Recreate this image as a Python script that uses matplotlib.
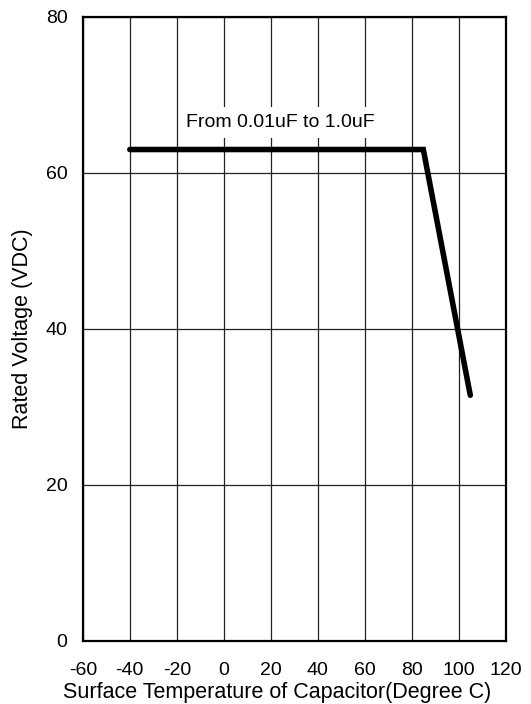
import matplotlib
matplotlib.use("Agg")
import matplotlib.pyplot as plt

plt.rcParams['font.family'] = ['Liberation Sans', 'DejaVu Sans']
plt.rcParams['axes.unicode_minus'] = False

# derating curve
temp = [-40, 85, 105]
volt = [63, 63, 31.5]

xticks = [-60, -40, -20, 0, 20, 40, 60, 80, 100, 120]
yticks = [0, 20, 40, 60, 80]

fig = plt.figure(figsize=(5.31, 7.04), dpi=100)
ax = fig.add_axes([0.156, 0.0895, 0.796, 0.8865])

ax.set_xlim(-60, 120)
ax.set_ylim(0, 80)
ax.set_xticks(xticks)
ax.set_yticks(yticks)
ax.grid(True, color='#222222', linewidth=0.9)
ax.set_axisbelow(True)
for s in ax.spines.values():
    s.set_linewidth(1.6)
    s.set_color('black')
ax.tick_params(length=0, labelsize=14)
ax.tick_params(axis='x', pad=15)
ax.tick_params(axis='y', pad=11)

ax.plot(temp, volt, color='black', linewidth=4, solid_capstyle='round',
        solid_joinstyle='miter', zorder=3)

ax.text(24, 66.4, "From 0.01uF to 1.0uF", ha='center', va='center', fontsize=14,
        bbox=dict(facecolor='white', edgecolor='none', pad=5), zorder=4)

ax.set_xlabel("Surface Temperature of Capacitor(Degree C)", fontsize=15.5)
ax.xaxis.set_label_coords(0.459, -0.066)
ax.set_ylabel("Rated Voltage (VDC)", fontsize=15.5)
ax.yaxis.set_label_coords(-0.117, 0.5)

fig.savefig("out.png", dpi=100)
